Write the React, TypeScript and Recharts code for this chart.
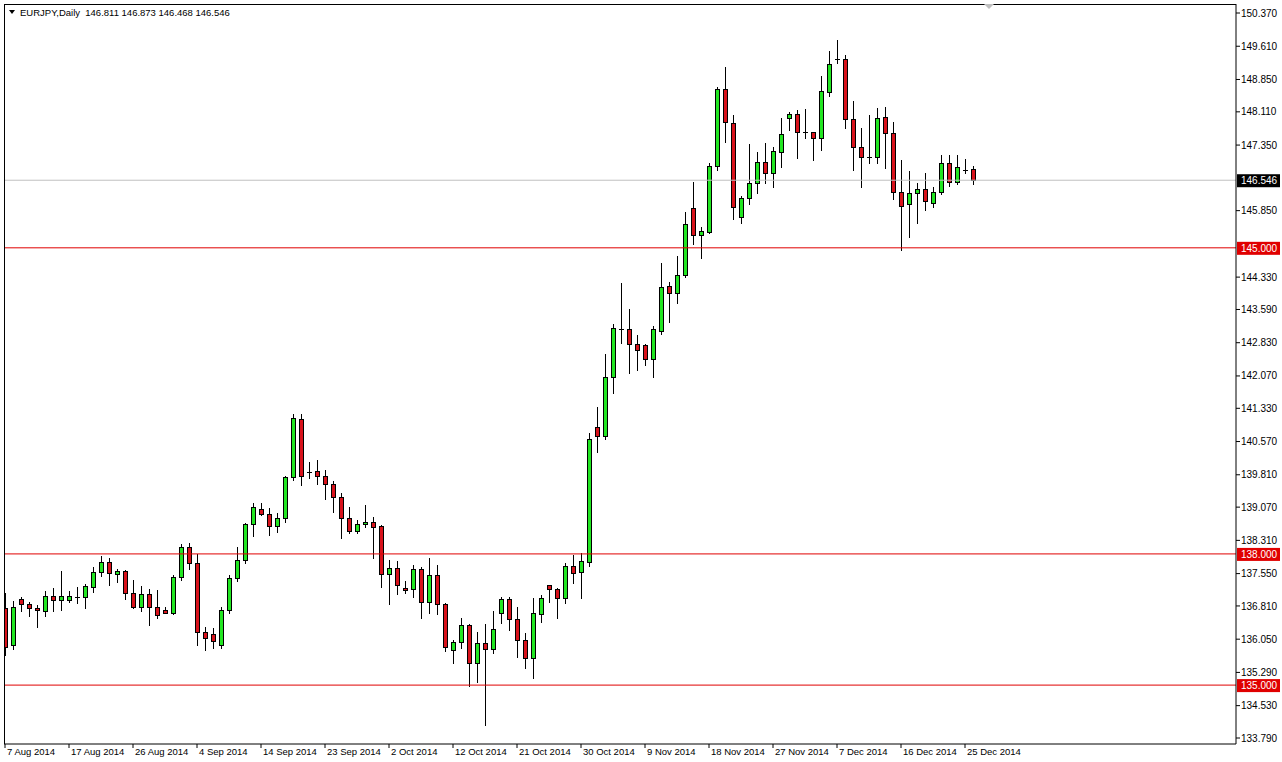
import React from 'react';
import { ComposedChart, Bar, XAxis, YAxis, ReferenceLine } from 'recharts';

const dates = [
  '7 Aug 2014','8 Aug 2014','10 Aug 2014','11 Aug 2014','12 Aug 2014','13 Aug 2014','14 Aug 2014','15 Aug 2014',
  '17 Aug 2014','18 Aug 2014','19 Aug 2014','20 Aug 2014','21 Aug 2014','22 Aug 2014',
  '24 Aug 2014','25 Aug 2014','26 Aug 2014','27 Aug 2014','28 Aug 2014','29 Aug 2014',
  '31 Aug 2014','1 Sep 2014','2 Sep 2014','3 Sep 2014','4 Sep 2014','5 Sep 2014',
  '7 Sep 2014','8 Sep 2014','9 Sep 2014','10 Sep 2014','11 Sep 2014','12 Sep 2014',
  '14 Sep 2014','15 Sep 2014','16 Sep 2014','17 Sep 2014','18 Sep 2014','19 Sep 2014',
  '21 Sep 2014','22 Sep 2014','23 Sep 2014','24 Sep 2014','25 Sep 2014','26 Sep 2014',
  '28 Sep 2014','29 Sep 2014','30 Sep 2014','1 Oct 2014','2 Oct 2014','3 Oct 2014',
  '5 Oct 2014','6 Oct 2014','7 Oct 2014','8 Oct 2014','9 Oct 2014','10 Oct 2014',
  '12 Oct 2014','13 Oct 2014','14 Oct 2014','15 Oct 2014','16 Oct 2014','17 Oct 2014',
  '19 Oct 2014','20 Oct 2014','21 Oct 2014','22 Oct 2014','23 Oct 2014','24 Oct 2014',
  '26 Oct 2014','27 Oct 2014','28 Oct 2014','29 Oct 2014','30 Oct 2014','31 Oct 2014',
  '2 Nov 2014','3 Nov 2014','4 Nov 2014','5 Nov 2014','6 Nov 2014','7 Nov 2014',
  '9 Nov 2014','10 Nov 2014','11 Nov 2014','12 Nov 2014','13 Nov 2014','14 Nov 2014',
  '16 Nov 2014','17 Nov 2014','18 Nov 2014','19 Nov 2014','20 Nov 2014','21 Nov 2014',
  '23 Nov 2014','24 Nov 2014','25 Nov 2014','26 Nov 2014','27 Nov 2014','28 Nov 2014',
  '30 Nov 2014','1 Dec 2014','2 Dec 2014','3 Dec 2014','4 Dec 2014','5 Dec 2014',
  '7 Dec 2014','8 Dec 2014','9 Dec 2014','10 Dec 2014','11 Dec 2014','12 Dec 2014',
  '14 Dec 2014','15 Dec 2014','16 Dec 2014','17 Dec 2014','18 Dec 2014','19 Dec 2014',
  '21 Dec 2014','22 Dec 2014','23 Dec 2014','24 Dec 2014','25 Dec 2014','26 Dec 2014',
];

const opens = [
  136.763,135.917,136.969,136.855,136.763,136.694,137.038,136.946,136.946,137.015,
  137.015,137.243,137.586,137.815,137.541,137.609,137.106,136.786,137.083,136.786,
  136.717,136.649,137.472,138.158,137.792,136.214,136.169,135.917,136.717,137.449,
  137.861,138.684,139.027,138.913,138.638,138.821,139.759,141.085,139.873,139.896,
  139.782,139.599,139.302,138.821,138.524,138.684,138.730,138.638,137.541,137.678,
  137.221,137.198,137.655,136.900,137.518,136.855,135.803,135.985,136.375,135.505,
  135.962,135.825,136.649,136.969,136.511,136.031,135.620,136.626,137.289,137.198,
  136.992,137.724,137.586,137.815,140.902,140.696,142.045,143.144,143.144,142.800,
  142.777,142.457,143.098,144.127,143.967,144.378,145.911,145.293,145.361,146.871,
  148.632,147.854,145.705,146.139,146.482,146.962,146.711,147.191,147.968,148.060,
  147.648,147.648,147.511,148.563,149.318,149.318,147.946,147.305,147.077,147.077,
  147.991,147.626,146.276,146.002,146.253,146.345,146.025,146.276,146.940,146.505,
  146.779,146.811,
];

const highs = [
  137.106,136.923,137.015,136.900,136.832,137.152,137.221,137.609,137.152,137.243,
  137.312,137.701,137.952,137.906,137.655,137.632,137.404,137.266,137.198,137.175,
  136.786,137.518,138.226,138.249,137.998,136.328,136.306,136.786,137.518,138.158,
  138.707,139.164,139.164,139.050,138.936,139.780,141.199,141.199,140.102,140.148,
  139.919,139.667,139.393,139.073,138.775,139.119,138.844,138.661,137.861,137.838,
  137.381,137.746,137.701,137.906,137.746,136.870,136.031,136.534,136.397,136.214,
  136.397,136.694,137.015,137.015,136.786,136.191,136.992,137.060,137.300,137.221,
  137.792,137.975,138.020,140.765,141.359,142.572,143.258,144.195,143.601,143.006,
  142.800,143.212,144.653,144.218,144.813,145.819,146.505,145.476,146.940,148.678,
  149.135,148.037,146.185,147.374,147.191,147.397,147.305,147.968,148.106,148.152,
  148.174,147.660,148.929,149.501,149.752,149.409,148.357,147.740,148.037,148.197,
  148.220,147.877,147.008,146.757,146.482,146.711,146.391,147.122,147.122,147.122,
  147.031,146.873,
];

const lows = [
  135.688,135.825,136.694,136.580,136.328,136.580,136.694,136.717,136.900,136.878,
  136.763,137.129,137.495,137.289,137.358,136.969,136.770,136.694,136.375,136.534,
  136.640,136.630,137.404,137.655,135.917,135.803,135.848,135.848,136.649,137.381,
  137.792,138.409,138.900,138.432,138.501,138.730,139.690,139.576,139.736,139.599,
  139.256,138.958,138.364,138.478,138.478,138.615,137.906,137.243,136.855,137.083,
  137.106,137.015,136.534,136.649,136.626,135.780,135.505,135.848,134.979,135.070,
  134.087,135.734,136.420,136.260,135.642,135.391,135.162,136.443,136.900,136.534,
  136.878,137.335,136.992,137.724,140.331,140.628,141.680,142.823,142.137,142.205,
  142.320,142.045,143.029,143.303,143.738,144.333,145.087,144.767,145.339,146.779,
  147.420,145.659,145.567,146.002,146.253,146.482,146.391,146.848,147.694,147.054,
  147.511,147.008,147.237,148.472,149.226,147.740,146.779,146.391,146.940,146.940,
  146.825,146.116,144.950,145.247,145.567,145.865,145.933,146.231,146.413,146.459,
  146.711,146.468,
];

const closes = [
  135.871,136.786,136.855,136.763,136.717,137.038,136.946,137.038,137.038,137.015,
  137.266,137.586,137.815,137.563,137.609,137.106,136.786,137.083,136.786,136.603,
  136.649,137.472,138.158,137.792,136.214,136.077,136.009,136.717,137.449,137.861,
  138.684,139.073,138.913,138.638,138.821,139.759,141.108,139.782,139.873,139.782,
  139.599,139.302,138.821,138.524,138.684,138.730,138.615,137.541,137.678,137.289,
  137.175,137.655,136.900,137.518,136.855,135.871,135.985,136.375,135.505,135.962,
  135.825,136.283,136.969,136.511,136.031,135.620,136.649,136.992,137.198,136.992,
  137.724,137.563,137.838,140.628,140.696,142.045,143.166,143.144,142.800,142.663,
  142.457,143.144,144.104,143.967,144.378,145.544,145.293,145.384,146.871,148.632,
  147.877,145.933,146.139,146.482,146.962,146.711,147.214,147.603,148.060,147.648,
  147.648,147.511,148.586,149.203,149.318,147.946,147.305,147.077,147.077,147.968,
  147.626,146.276,145.956,146.253,146.345,146.070,146.276,146.940,146.505,146.848,
  146.779,146.546,
];

const dateTickIndexes = [0, 8, 16, 24, 32, 40, 48, 56, 64, 72, 80, 88, 96, 104, 112, 120];
const priceTicks = [
  150.37, 149.61, 148.85, 148.11, 147.35, 145.85, 144.33, 143.59, 142.83, 142.07,
  141.33, 140.57, 139.81, 139.07, 138.31, 137.55, 136.81, 136.05, 135.29, 134.53, 133.79,
];
const levelLines = [145, 138, 135];
const symbolTitle = 'EURJPY,Daily';

const rows = dates.map((d, i) => ({
  idx: i,
  date: d,
  open: opens[i],
  high: highs[i],
  low: lows[i],
  close: closes[i],
  range: [lows[i], highs[i]],
}));

const last = rows.length - 1;
const lastClose = closes[last];
const FONT = '"Liberation Sans", Arial, sans-serif';

const Candle = (props: any) => {
  const { x, y, width, height, payload } = props;
  if (payload == null || height == null) return null;
  const cx = Math.round(x + width / 2);
  const span = payload.high - payload.low;
  const toY = (v: number) => (span > 0 ? y + ((payload.high - v) / span) * height : y);
  const yo = toY(payload.open);
  const yc = toY(payload.close);
  const top = Math.round(Math.min(yo, yc));
  const bot = Math.round(Math.max(yo, yc));
  const yHigh = Math.round(y);
  const yLow = Math.round(y + height);
  const up = payload.close > payload.open;
  const doji = payload.close === payload.open;
  return (
    <g>
      <line x1={cx + 0.5} x2={cx + 0.5} y1={yHigh} y2={yLow + 1} stroke="#000" strokeWidth={1} />
      {doji ? (
        <line x1={cx - 2} x2={cx + 3} y1={top + 0.5} y2={top + 0.5} stroke="#000" strokeWidth={1} />
      ) : (
        <rect
          x={cx - 1.5}
          y={top + 0.5}
          width={4}
          height={Math.max(bot - top, 1)}
          fill={up ? '#22e622' : '#d8121b'}
          stroke="#000"
          strokeWidth={1}
        />
      )}
    </g>
  );
};

const DateTick = (props: any) => {
  const { x, y, payload } = props;
  return (
    <text x={x + 2} y={y} dy={5} fontSize={9.5} fontFamily={FONT} fill="#000" textAnchor="start">
      {dates[payload.value]}
    </text>
  );
};

const PriceTag = (props: any) => {
  const { viewBox, text, bg } = props;
  if (!viewBox) return null;
  const left = viewBox.x + viewBox.width + 1;
  const cy = viewBox.y;
  return (
    <g>
      <rect x={left} y={cy - 6} width={43} height={13} fill={bg} />
      <text x={left + 4} y={cy + 4} fontSize={10} fontFamily={FONT} fill="#fff">
        {text}
      </text>
    </g>
  );
};

export default function App() {
  const header = `${symbolTitle}  ${opens[last].toFixed(3)} ${highs[last].toFixed(3)} ${lows[last].toFixed(3)} ${closes[last].toFixed(3)}`;
  return (
    <div style={{ position: 'absolute', left: 0, top: 0, width: 1282, height: 762, background: '#fff' }}>
      <ComposedChart width={1282} height={762} data={rows} margin={{ top: 4, right: 0, bottom: 0, left: 4 }}>
        <XAxis
          dataKey="idx"
          type="number"
          domain={[-0.125, 153.875]}
          allowDataOverflow
          ticks={dateTickIndexes}
          interval={0}
          height={18}
          tickSize={4}
          tickLine={{ stroke: '#000' }}
          axisLine={{ stroke: '#000' }}
          tick={<DateTick />}
        />
        <YAxis
          orientation="right"
          type="number"
          domain={[133.653, 150.576]}
          allowDataOverflow
          ticks={priceTicks}
          interval={0}
          width={46}
          tickSize={4}
          tickMargin={1}
          tickLine={{ stroke: '#000' }}
          axisLine={{ stroke: '#000' }}
          tickFormatter={(v: number) => v.toFixed(3)}
          tick={{ fill: '#000', fontSize: 10, fontFamily: FONT }}
        />
        <ReferenceLine
          y={lastClose}
          stroke="#c0c0c0"
          strokeWidth={1}
          label={<PriceTag text={lastClose.toFixed(3)} bg="#000" />}
        />
        {levelLines.map((lv) => (
          <ReferenceLine
            key={lv}
            y={lv}
            stroke="#e00000"
            strokeWidth={1}
            label={<PriceTag text={lv.toFixed(3)} bg="#e00000" />}
          />
        ))}
        <Bar dataKey="range" shape={<Candle />} isAnimationActive={false} barSize={5} />
      </ComposedChart>
      <svg width={1282} height={762} style={{ position: 'absolute', left: 0, top: 0, pointerEvents: 'none' }}>
        <line x1={4} x2={1236} y1={4.5} y2={4.5} stroke="#000" />
        <line x1={4.5} x2={4.5} y1={4} y2={744} stroke="#000" />
        <polygon points="9,10 15,10 12,14" fill="#000" />
        <polygon points="984,4 994,4 989,9" fill="#c0c0c0" />
        <text x={20} y={16} fontSize={9.5} fontFamily={FONT} fill="#000" xmlSpace="preserve">
          {header}
        </text>
      </svg>
    </div>
  );
}
